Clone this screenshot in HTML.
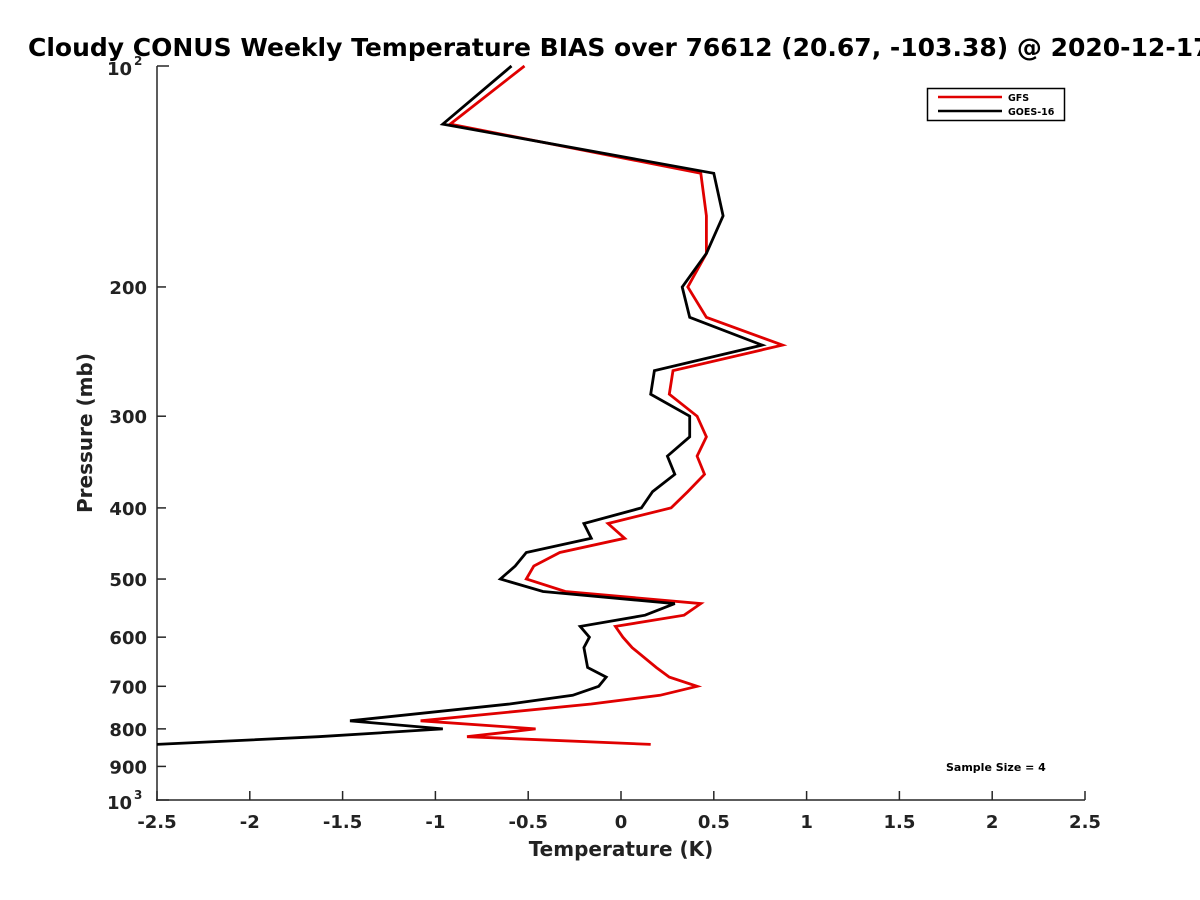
<!DOCTYPE html>
<html><head><meta charset="utf-8"><style>
body{margin:0;background:#fff;}
svg{display:block;font-family:"DejaVu Sans","Liberation Sans",sans-serif;font-weight:bold;}
</style></head><body>
<svg id="chart" width="1200" height="900" viewBox="0 0 1200 900" xmlns="http://www.w3.org/2000/svg">
<rect width="1200" height="900" fill="#fff"/>
<text x="28" y="56" font-size="25" fill="#000">Cloudy CONUS Weekly Temperature BIAS over 76612 (20.67, -103.38) @ 2020-12-17</text>
<g id="axes"></g>
<g id="series"></g>
<g>
<rect x="927.5" y="88.5" width="137" height="32" fill="#fff" stroke="#000" stroke-width="1.5"/>
<line x1="938" y1="97" x2="1002" y2="97" stroke="#e00000" stroke-width="2.5"/>
<text x="1008" y="101" font-size="9.5">GFS</text>
<line x1="938" y1="111" x2="1002" y2="111" stroke="#000" stroke-width="2.5"/>
<text x="1008" y="115" font-size="9.5">GOES-16</text>
</g>
<text x="946" y="771" font-size="11">Sample Size = 4</text>
<text x="621" y="856" font-size="20" text-anchor="middle" fill="#222">Temperature (K)</text>
<text transform="translate(92,433) rotate(-90)" font-size="20" text-anchor="middle" fill="#222">Pressure (mb)</text>
</svg>
<script>
const levels=[100,120,140,160,180,200,220,240,260,280,300,320,340,360,380,400,420,440,460,480,500,520,540,560,580,600,620,660,680,700,720,740,780,800,820,840];
const gfsBias=[-0.52,-0.92,0.43,0.46,0.46,0.36,0.46,0.87,0.28,0.26,0.41,0.46,0.41,0.45,0.36,0.27,-0.07,0.02,-0.33,-0.47,-0.51,-0.30,0.43,0.34,-0.03,0.01,0.06,0.19,0.26,0.41,0.21,-0.16,-1.08,-0.46,-0.83,0.16];
const goesBias=[-0.59,-0.96,0.50,0.55,0.46,0.33,0.37,0.76,0.18,0.16,0.37,0.37,0.25,0.29,0.17,0.11,-0.20,-0.16,-0.51,-0.57,-0.65,-0.42,0.29,0.13,-0.22,-0.17,-0.20,-0.18,-0.08,-0.12,-0.26,-0.60,-1.46,-0.96,-1.63,-2.50];
const xTicks=[-2.5,-2,-1.5,-1,-0.5,0,0.5,1,1.5,2,2.5];
const xTickLabels=["-2.5","-2","-1.5","-1","-0.5","0","0.5","1","1.5","2","2.5"];
const yTicks=[200,300,400,500,600,700,800,900];
const yTickLabels=["200","300","400","500","600","700","800","900"];

const L=157,R=1085,T=66,B=800,xmin=-2.5,xmax=2.5;
const xs=v=>L+(v-xmin)/(xmax-xmin)*(R-L);
const ys=p=>T+(Math.log10(p)-2)*(B-T);
const NS="http://www.w3.org/2000/svg";
function mk(tag,attrs,parent){const e=document.createElementNS(NS,tag);for(const k in attrs)e.setAttribute(k,attrs[k]);parent.appendChild(e);return e;}
const ax=document.getElementById('axes');
let e=mk('line',{x1:L,y1:T,x2:L,y2:B+1,stroke:'#262626','stroke-width':1.5},ax);


e=mk('line',{x1:L-1,y1:B,x2:R,y2:B,stroke:'#262626','stroke-width':1.5},ax);


xTicks.forEach((v,i)=>{
  const x=xs(v);
  mk('line',{x1:x,y1:B,x2:x,y2:B-9,stroke:'#262626','stroke-width':1.5},ax);
  const t=mk('text',{x:x,y:B+28,'font-size':18,'text-anchor':'middle',fill:'#222'},ax);
  t.textContent=xTickLabels[i];
  
  
});
yTicks.forEach((p,i)=>{
  const y=ys(p);
  mk('line',{x1:L,y1:y,x2:L+9,y2:y,stroke:'#262626','stroke-width':1.5},ax);
  const t=mk('text',{x:L-10,y:y+7,'font-size':18,'text-anchor':'end',fill:'#222'},ax);
  t.textContent=yTickLabels[i];
  
  
});
[[100,'2'],[1000,'3']].forEach(([p,ex])=>{
  const y=ys(p);
  mk('line',{x1:L,y1:y,x2:L+12,y2:y,stroke:'#262626','stroke-width':1.5},ax);
  const t=mk('text',{x:L-50,y:y+(p===100?9:9),'font-size':18,fill:'#222'},ax);
  t.textContent='10';
  
  
  const s=mk('text',{x:L-23,y:y-1,'font-size':12,fill:'#222'},ax);
  s.textContent=ex;
  
  
});
const sg=document.getElementById('series');
function line(vals,color,name){
  const pts=vals.map((v,i)=>xs(Math.max(v,xmin)).toFixed(1)+','+ys(levels[i]).toFixed(1)).join(' ');
  const p=mk('polyline',{points:pts,fill:'none',stroke:color,'stroke-width':2.8,'stroke-linejoin':'miter'},sg);
  
  
}
line(gfsBias,'#e00000','gfs-line');
line(goesBias,'#000','goes16-line');
</script>
</body></html>
